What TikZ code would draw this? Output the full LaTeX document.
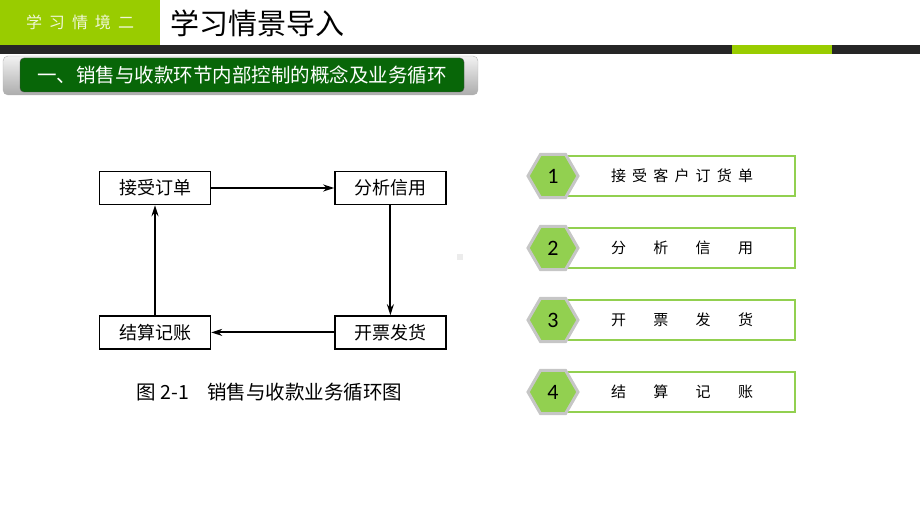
\documentclass[tikz,border=0pt]{standalone}
\usepackage{fontspec}
\newfontfamily\cjk{Noto Sans CJK SC}
\newfontfamily\numfont{Carlito}
\usetikzlibrary{positioning,shapes.geometric,arrows.meta}

\definecolor{lime}{RGB}{153,204,0}
\definecolor{darkbar}{RGB}{38,38,38}
\definecolor{leaf}{RGB}{146,208,80}
\definecolor{bannergreen}{RGB}{8,102,8}

\tikzset{
  flowbox/.style={draw, line width=1.4pt, minimum width=111pt, minimum height=33pt,
    inner sep=0pt, font=\cjk\fontsize{18}{18}\selectfont},
  flowarrow/.style={-{Stealth[length=11pt,width=7pt]}, line width=2.1pt},
  hexnum/.style={regular polygon, regular polygon sides=6, minimum size=50pt,
    inner sep=0pt, fill=leaf, draw=gray!45, line width=3pt,
    font=\numfont\fontsize{22}{22}\selectfont},
  stepbar/.style={draw=leaf, line width=1.5pt, minimum width=230pt,
    minimum height=40pt, inner sep=0pt},
  steptext/.style={inner sep=0pt, font=\cjk\fontsize{15}{15}\selectfont},
}

\begin{document}
\begin{tikzpicture}[x=1pt, y=-1pt]
      \useasboundingbox (0,0) rectangle (920,518);

      % Header
      \fill[lime] (0,0) rectangle (160,45);
      \node[text=white!85!lime, font=\cjk\fontsize{16}{16}\selectfont] (unit) at (80,22)
        {学\hspace{7pt}习\hspace{7pt}情\hspace{7pt}境\hspace{7pt}二};
      \node[anchor=west, font=\cjk\fontsize{29}{29}\selectfont] (title) at (167,23) {学习情景导入};
      \fill[darkbar] (0,45) rectangle (920,54);
      \fill[lime] (732,45) rectangle (832,54);

      % Banner
      \node[draw=gray!60, rounded corners=5pt, top color=gray!10, bottom color=gray!65,
        minimum width=475pt, minimum height=39pt] (banner-frame) at (240.5,75.5) {};
      \node[fill=bannergreen, draw=black!70, rounded corners=4pt, minimum width=444pt,
        minimum height=34pt, text=white, font=\cjk\fontsize{19.5}{19.5}\selectfont]
        (banner) at (242,75) {一、销售与收款环节内部控制的概念及业务循环};

      % Define nodes
      \node[flowbox]                         (order)   at (155,188) {接受订单};
      \node[flowbox, right=123pt of order]   (credit)  {分析信用};
      \node[flowbox, below=110pt of credit]  (invoice) {开票发货};
      \node[flowbox, below=110pt of order]   (account) {结算记账};
      \node[anchor=west, inner sep=0pt, font=\cjk\fontsize{19.5}{19.5}\selectfont] (caption) at (136,392)
        {图\hspace{5pt}2-1\hspace{18pt}销售与收款业务循环图};

      % Connect the nodes
      \draw[flowarrow] (order)   -- (credit);
      \draw[flowarrow] (credit)  -- (invoice);
      \draw[flowarrow] (invoice) -- (account);
      \draw[flowarrow] (account) -- (order);

      % Marker
      \fill[gray!15] (457,254) rectangle (463,260);

      % Steps
      \node[stepbar]  (step1-box)  at (680,176) {};
      \node[hexnum]   (step1)      at (553,176) {1};
      \node[steptext] (step1-text) at (682,176)
        {\makebox[142pt]{接\hfill 受\hfill 客\hfill 户\hfill 订\hfill 货\hfill 单}};

      \node[stepbar]  (step2-box)  at (680,248) {};
      \node[hexnum]   (step2)      at (553,248) {2};
      \node[steptext] (step2-text) at (682,248)
        {\makebox[142pt]{分\hfill 析\hfill 信\hfill 用}};

      \node[stepbar]  (step3-box)  at (680,320) {};
      \node[hexnum]   (step3)      at (553,320) {3};
      \node[steptext] (step3-text) at (682,320)
        {\makebox[142pt]{开\hfill 票\hfill 发\hfill 货}};

      \node[stepbar]  (step4-box)  at (680,392) {};
      \node[hexnum]   (step4)      at (553,392) {4};
      \node[steptext] (step4-text) at (682,392)
        {\makebox[142pt]{结\hfill 算\hfill 记\hfill 账}};

\end{tikzpicture}
\end{document}
